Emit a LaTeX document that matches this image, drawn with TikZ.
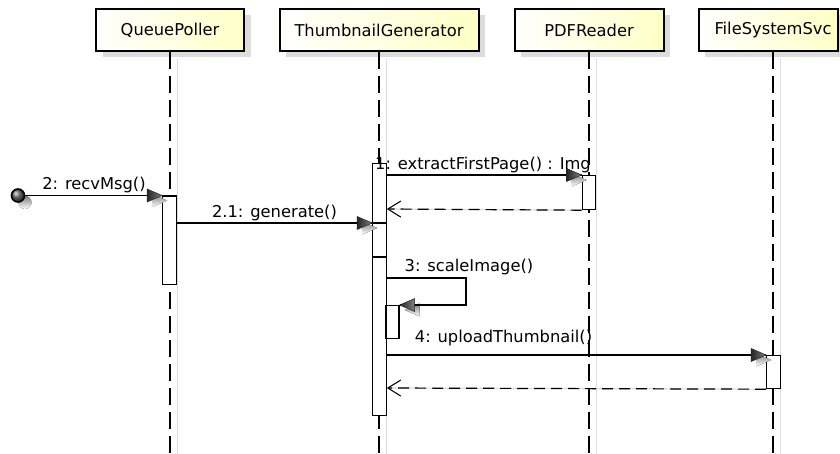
\documentclass[tikz,border=0pt]{standalone}
\usepackage{fontspec}
\setmainfont{DejaVu Sans}
\usetikzlibrary{arrows.meta,calc,shadows}

\definecolor{shade}{HTML}{DCDCDC}
\definecolor{headyellow}{HTML}{FFFFC6}

\tikzset{
  txt/.style={font=\fontsize{16.3}{19}\selectfont},
  headbox/.style={txt, draw=black, line width=2pt, left color=white, right color=headyellow,
    minimum height=42, inner sep=0pt,
    drop shadow={shadow xshift=6.5pt, shadow yshift=-6.5pt, fill=shade, opacity=1}},
  lifeline/.style={line width=2pt, dash pattern=on 17pt off 7pt},
  lifeshadow/.style={draw=shade, line width=1pt},
  actbar/.style={draw=black, fill=white, line width=1.2pt, minimum width=13.5, inner sep=0pt, anchor=north},
  msg/.style={draw=black, line width=1.2pt},
  ret/.style={draw=black, line width=1.2pt, dash pattern=on 11pt off 6pt,
    -{Straight Barb[length=13pt,width=16pt,line width=1pt]}},
  retshadow/.style={draw=shade, line width=1.2pt,
    -{Straight Barb[length=13pt,width=16pt,line width=1pt]}},
  lbl/.style={txt, inner sep=0pt, anchor=base},
  pics/tipright/.style={code={
    \path[left color=black!85, right color=black!50, draw=black!85, line width=.5pt]
      (0,0) -- (-15,-6.5) -- (-15,6.5) -- cycle;}},
  pics/tipleft/.style={code={
    \path[left color=black!85, right color=black!50, draw=black!85, line width=.5pt]
      (0,0) -- (15,-6.5) -- (15,6.5) -- cycle;}},
  pics/tipshadowr/.style={code={\fill[shade] (0,0) -- (-15,-6.5) -- (-15,6.5) -- cycle;}},
  pics/tipshadowl/.style={code={\fill[shade] (0,0) -- (15,-6.5) -- (15,6.5) -- cycle;}},
}

\begin{document}
\begin{tikzpicture}[x=1pt,y=-1pt]
  \fill[white] (0,0) rectangle (840,454);
  \useasboundingbox (0,0) rectangle (840,454);

  % participant heads
  \node[headbox, minimum width=148] (qp) at (170,30) {QueuePoller};
  \node[headbox, minimum width=199] (tg) at (379,30) {ThumbnailGenerator};
  \node[headbox, minimum width=149] (pr) at (589,30) {PDFReader};
  \node[headbox, minimum width=139] (fsbox) at (768,30) {};
  \node[txt, inner sep=0pt] (fs) at (773,30) {FileSystemSvc};

  % lifeline ends
  \coordinate (qpend) at (170,454);
  \coordinate (tgend) at (379,454);
  \coordinate (prend) at (589,454);
  \coordinate (fsend) at (773,454);

  % lifeline shadows
  \foreach \n in {qp,tg,pr} {
    \draw[lifeshadow] ($(\n.south)+(7,7)$) -- ($(\n end)+(7,0)$);
  }
  \draw[lifeshadow] ($(fs |- fsbox.south)+(7,7)$) -- ($(fsend)+(7,0)$);

  % lifelines
  \draw[lifeline] (qp.south) -- (qpend);
  \draw[lifeline] (tg.south) -- (tgend);
  \draw[lifeline] (pr.south) -- (prend);
  \draw[lifeline] (fs |- fsbox.south) -- (fsend);

  % activation bars
  \node[actbar, minimum height=88] (qpbar) at (169.5,195.5) {};
  \node[actbar, minimum height=252] (tgbar) at (379.5,163) {};
  \node[actbar, minimum height=34] (prbar) at (589,175) {};
  \node[actbar, minimum height=33] (fsbar) at (773.5,355) {};
  \node[actbar, minimum width=13, minimum height=33] (tgself) at (392.5,305) {};
  \draw[line width=1.2pt] (tgbar.west |- 0,257) -- (tgbar.east |- 0,257);

  % found message start
  \fill[shade] (25,202.5) circle (6.5);
  \node[circle, draw=black, line width=1.6pt, minimum size=13, inner sep=0pt,
        ball color=black!60] (found) at (18,195.5) {};

  % message points
  \coordinate (g0) at (qpbar.east |- 0,223);
  \coordinate (g1) at (tgbar.west |- 0,223);
  \coordinate (g2) at (tgbar.east |- 0,223);
  \coordinate (e0) at (tgbar.east |- 0,175);
  \coordinate (r1) at (tgbar.east |- 0,209);
  \coordinate (s0) at (tgbar.east |- 0,278);
  \coordinate (s1) at (466,278);
  \coordinate (s2) at (466,305);
  \coordinate (u0) at (tgbar.east |- 0,355);
  \coordinate (r2) at (tgbar.east |- 0,388);

  % message shadows
  \begin{scope}[shift={(7,7)}]
    \draw[draw=shade, line width=1.2pt] (found.east) -- ($(qpbar.north west)+(-10,0)$);
    \draw[draw=shade, line width=1.2pt] (g0) -- ($(g1)+(-10,0)$);
    \draw[draw=shade, line width=1.2pt] (e0) -- ($(prbar.north west)+(-10,0)$);
    \draw[retshadow] (prbar.south west) -- (r1);
    \draw[draw=shade, line width=1.2pt] (s0) -- (s1) -- (s2) -- ($(tgself.north east)+(10,0)$);
    \draw[draw=shade, line width=1.2pt] (u0) -- ($(fsbar.north west)+(-10,0)$);
    \draw[retshadow] (fsbar.south west) -- (r2);
  \end{scope}
  \pic at ($(qpbar.north west)+(5,5)$) {tipshadowr};
  \pic at ($(g1)+(5,5)$) {tipshadowr};
  \pic at ($(prbar.north west)+(5,5)$) {tipshadowr};
  \pic at ($(tgself.north east)+(5,5)$) {tipshadowl};
  \pic at ($(fsbar.north west)+(5,5)$) {tipshadowr};

  % messages
  \draw[msg] (found.east) -- (qpbar.north west);
  \pic at (qpbar.north west) {tipright};
  \draw[msg] (g0) -- (g1) -- (g2);
  \pic at (g1) {tipright};
  \draw[msg] (e0) -- (prbar.north west);
  \pic at (prbar.north west) {tipright};
  \draw[ret] (prbar.south west) -- (r1);
  \draw[msg] (s0) -- (s1) -- (s2) -- (tgself.north east);
  \pic at (tgself.north east) {tipleft};
  \draw[msg] (u0) -- (fsbar.north west);
  \pic at (fsbar.north west) {tipright};
  \draw[ret] (fsbar.south west) -- (r2);

  % message labels
  \node[lbl] (l1) at (94,190) {2: recvMsg()};
  \node[lbl] (l2) at (274.5,218) {2.1: generate()};
  \node[lbl] (l3) at (483,170) {1: extractFirstPage() : Img};
  \node[lbl] (l4) at (469,271) {3: scaleImage()};
  \node[lbl] (l5) at (503.5,342) {4: uploadThumbnail()};
\end{tikzpicture}
\end{document}
